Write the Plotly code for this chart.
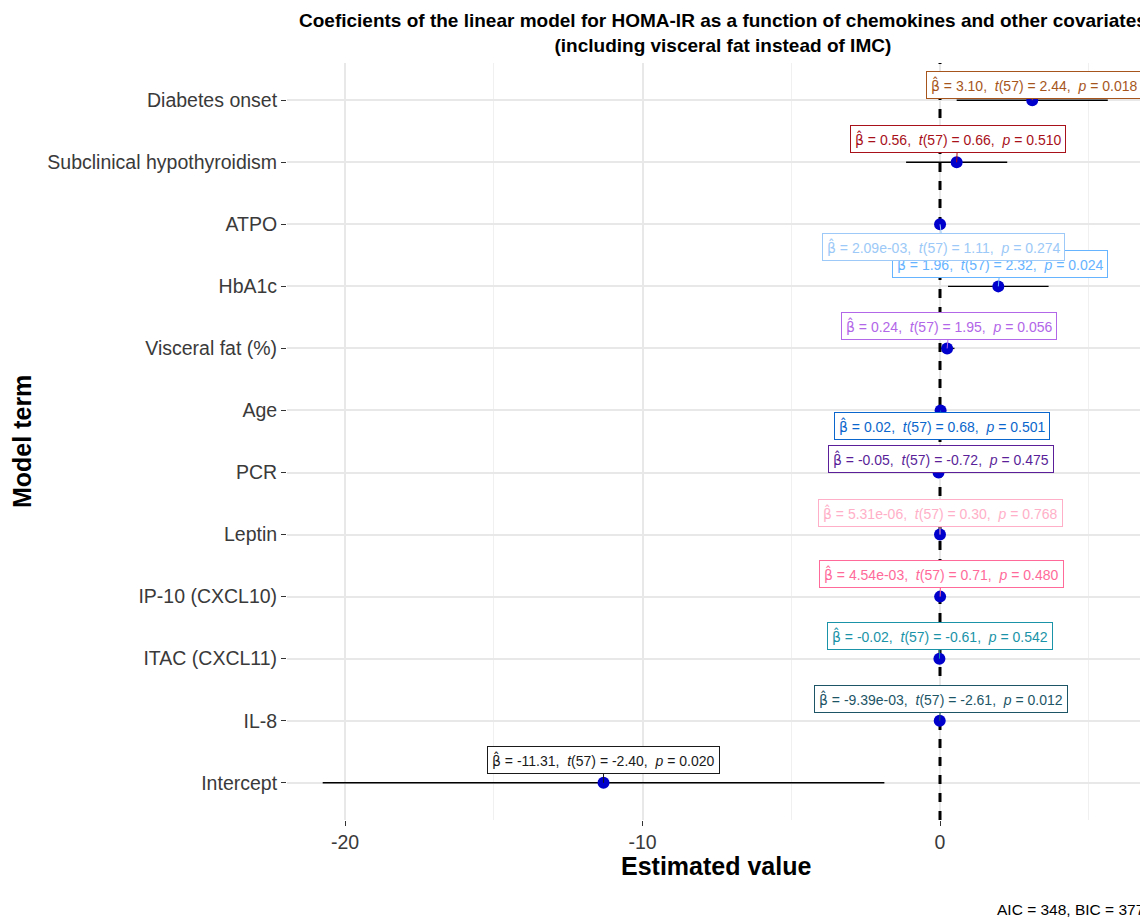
import plotly.graph_objects as go

# ---------------- data (bottom to top) ----------------
terms = ["Intercept", "IL-8", "ITAC (CXCL11)", "IP-10 (CXCL10)", "Leptin", "PCR", "Age",
         "Visceral fat (%)", "HbA1c", "ATPO", "Subclinical hypothyroidism", "Diabetes onset"]
estimate = [-11.31, -9.39e-03, -0.02, 4.54e-03, 5.31e-06, -0.05, 0.02, 0.24, 1.96, 2.09e-03, 0.56, 3.10]
estimate_text = ["-11.31", "-9.39e-03", "-0.02", "4.54e-03", "5.31e-06", "-0.05", "0.02",
                 "0.24", "1.96", "2.09e-03", "0.56", "3.10"]
t_text = ["-2.40", "-2.61", "-0.61", "0.71", "0.30", "-0.72", "0.68", "1.95", "2.32", "1.11", "0.66", "2.44"]
p_text = ["0.020", "0.012", "0.542", "0.480", "0.768", "0.475", "0.501", "0.056", "0.024", "0.274", "0.510", "0.018"]
conf_low = [-20.75, -0.0166, -0.086, -0.0083, -3.0e-05, -0.189, -0.039, -0.006, 0.27, -0.0017, -1.14, 0.56]
conf_high = [-1.87, -0.0022, 0.046, 0.0173, 4.1e-05, 0.089, 0.079, 0.486, 3.65, 0.0059, 2.26, 5.64]
df_resid = 57
aic_text = "348"
bic_text = "377"
ref_value = 0

# ---------------- styles ----------------
label_colors = ["#1a1a1a", "#1d5566", "#1a93a8", "#ff6a9a", "#ffb0c8", "#5a1f99", "#0a66cc",
                "#b266e8", "#66b3ff", "#9cc9f7", "#a8101a", "#a6561c"]
# label offsets in pixels (repel placement)
label_dx = [0, 1, 1, 1, 0, 2, 1, 2, 2, 3, 1, 2]
label_dy = [-23, -22, -23, -23, -22, -14, 16, -22, -22, 23, -23, -15]
draw_order = [0, 1, 2, 3, 4, 5, 6, 7, 8, 9, 10, 11]

FONT = "Liberation Sans, Arial, sans-serif"
W, H = 1140, 919
L, R, T, B = 287, 0, 63, 99
ypos = list(range(1, len(terms) + 1))
yrange = [0.4, len(terms) + 0.6]

fig = go.Figure()

# reference line at zero
fig.add_trace(go.Scatter(
    x=[ref_value, ref_value], y=yrange, mode="lines",
    line=dict(color="black", width=3, dash="dash"),
    showlegend=False, hoverinfo="skip"))

fig.add_trace(go.Scatter(
    x=estimate, y=ypos, mode="markers",
    marker=dict(color="#0000cc", size=12),
    error_x=dict(type="data", symmetric=False,
                 array=[h - e for h, e in zip(conf_high, estimate)],
                 arrayminus=[e - l for e, l in zip(estimate, conf_low)],
                 color="black", thickness=1.4, width=0),
    showlegend=False, hoverinfo="skip"))

annotations = []
for i in draw_order:
    txt = (f"<span style='font-family:DejaVu Sans'>β̂</span> = {estimate_text[i]},  "
           f"<i>t</i>({df_resid}) = {t_text[i]},  <i>p</i> = {p_text[i]}")
    annotations.append(dict(
        x=estimate[i], y=ypos[i], xref="x", yref="y", text=txt,
        showarrow=True, arrowhead=0, arrowwidth=1, arrowcolor=label_colors[i],
        ax=label_dx[i], ay=label_dy[i], standoff=0,
        font=dict(family=FONT, size=14, color=label_colors[i]),
        bgcolor="white", bordercolor=label_colors[i], borderwidth=1, borderpad=4))

pw = W - L - R
ph = H - T - B
# title
annotations.append(dict(
    x=(723 - L) / pw, y=(T - 33) / ph + 1, xref="paper", yref="paper",
    xanchor="center", yanchor="middle", showarrow=False,
    text="<b>Coeficients of the linear model for HOMA-IR as a function of chemokines and other covariates</b><br>"
         "<b>(including visceral fat instead of IMC)</b>",
    font=dict(family=FONT, size=19, color="black")))
# axis titles
annotations.append(dict(
    x=(22 - L) / pw, y=(441 - T) / ph, xref="paper", yref="paper",
    xanchor="center", yanchor="middle", showarrow=False, textangle=-90,
    text="<b>Model term</b>", font=dict(family=FONT, size=25, color="black")))
annotations.append(dict(
    x=(716 - L) / pw, y=-(866 - (H - B)) / ph, xref="paper", yref="paper",
    xanchor="center", yanchor="middle", showarrow=False,
    text="<b>Estimated value</b>", font=dict(family=FONT, size=25, color="black")))
# caption
annotations.append(dict(
    x=(995 - L) / pw, y=-(909 - (H - B)) / ph, xref="paper", yref="paper",
    xanchor="left", yanchor="middle", showarrow=False,
    text=f"AIC = {aic_text}, BIC = {bic_text}", font=dict(family=FONT, size=15.5, color="black")))

fig.update_layout(
    width=W, height=H, margin=dict(l=L, r=R, t=T, b=B),
    plot_bgcolor="white", paper_bgcolor="white",
    font=dict(family=FONT),
    annotations=annotations,
    xaxis=dict(range=[(L - 940) / 29.75, (W - R - 940) / 29.75],
               tickvals=[-20, -10, 0], ticktext=["-20", "-10", "0"],
               showgrid=True, gridcolor="#e8e8e8", gridwidth=1.5,
               minor=dict(tickvals=[-15, -5, 5], showgrid=True, gridcolor="#f0f0f0", gridwidth=1, ticks=""),
               zeroline=False, showline=False,
               ticks="outside", ticklen=5, tickcolor="#333333", tickwidth=1,
               tickfont=dict(family=FONT, size=19.5, color="#3a3a3a")),
    yaxis=dict(range=yrange, tickvals=ypos, ticktext=terms,
               showgrid=True, gridcolor="#e8e8e8", gridwidth=1.5,
               zeroline=False, showline=False,
               ticks="outside", ticklen=5, tickcolor="#333333", tickwidth=1,
               tickfont=dict(family=FONT, size=19.5, color="#3a3a3a")),
)

fig.write_html("out.html", config={"displayModeBar": False},
               post_script="document.body.style.margin='0';document.body.style.overflow='hidden';")
